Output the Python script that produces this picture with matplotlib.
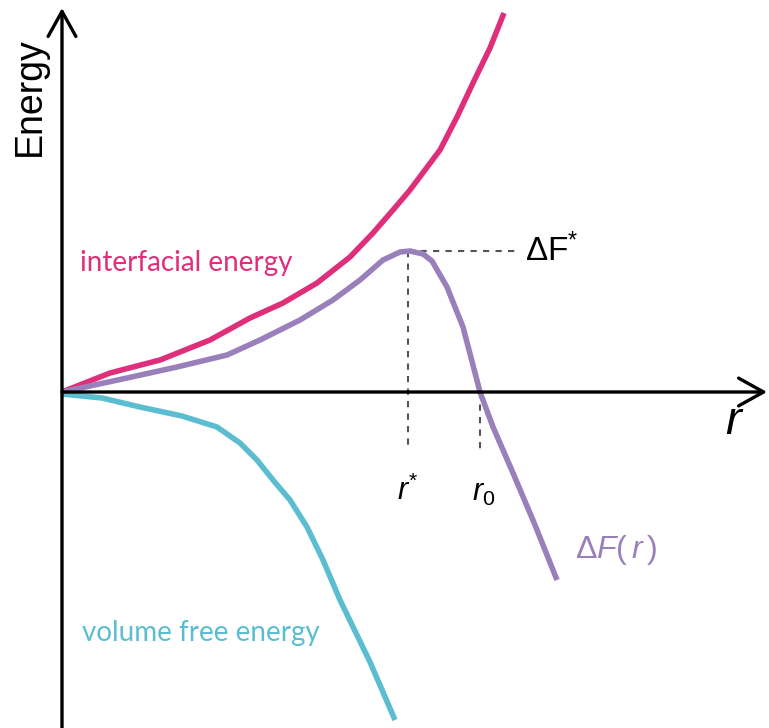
import matplotlib
matplotlib.use("Agg")
import matplotlib.pyplot as plt

# nucleation energy sketch: interfacial term, volume term and their sum
r_interface = [0.0, 0.48, 0.98, 1.48, 1.88, 2.21, 2.55, 2.88, 3.11, 3.31, 3.48, 3.78, 3.95, 4.11, 4.28, 4.42]
e_interface = [0.0, 0.19, 0.32, 0.52, 0.74, 0.89, 1.09, 1.35, 1.59, 1.82, 2.02, 2.42, 2.75, 3.09, 3.44, 3.79]

r_volume = [0.0, 0.40, 0.78, 1.20, 1.55, 1.78, 1.95, 2.11, 2.28, 2.45, 2.61, 2.78, 3.08, 3.33]
e_volume = [-0.02, -0.06, -0.15, -0.24, -0.35, -0.51, -0.68, -0.88, -1.08, -1.35, -1.68, -2.08, -2.70, -3.28]

r_total = [0.0, 0.65, 1.15, 1.65, 1.98, 2.38, 2.71, 2.98, 3.21, 3.38, 3.48, 3.61, 3.70, 3.85, 4.01, 4.18, 4.31, 4.51, 4.73, 4.95]
e_total = [0.0, 0.14, 0.25, 0.37, 0.52, 0.72, 0.92, 1.12, 1.32, 1.40, 1.41, 1.38, 1.31, 1.05, 0.65, 0.0, -0.35, -0.81, -1.33, -1.88]

r_star = 3.46
dF_star = 1.41
r_zero = 4.18

pink = "#df2f7b"
purple = "#9a80ba"
cyan = "#5bbdd0"

plt.rcParams["mathtext.fontset"] = "custom"
plt.rcParams["mathtext.rm"] = "Liberation Sans"
plt.rcParams["mathtext.it"] = "Liberation Sans:italic"

fig = plt.figure(figsize=(7.69, 7.28), dpi=100)
ax = fig.add_axes([0, 0, 1, 1])
ax.set_xlim(-0.62, 7.07)
ax.set_ylim(-3.36, 3.92)
ax.axis("off")

# axes with open arrow heads
arrow = dict(arrowstyle="->,head_length=0.9,head_width=0.5", lw=2.4, color="black",
             mutation_scale=20, shrinkA=0, shrinkB=0)
ax.annotate("", xy=(0, 3.84), xytext=(0, -3.40), arrowprops=arrow)
ax.annotate("", xy=(7.05, 0), xytext=(0, 0), arrowprops=arrow)

# guide lines at the barrier maximum and at r0
dash = dict(color="#555555", lw=1.5, ls=(0, (3, 3)))
ax.plot([r_star, 4.55], [dF_star, dF_star], **dash)
ax.plot([r_star, r_star], [dF_star, -0.58], **dash)
ax.plot([r_zero, r_zero], [0, -0.58], **dash)

ax.plot(r_interface, e_interface, color=pink, lw=4.0, solid_capstyle="butt", solid_joinstyle="round")
ax.plot(r_volume, e_volume, color=cyan, lw=4.0, solid_capstyle="butt", solid_joinstyle="round")
ax.plot(r_total, e_total, color=purple, lw=4.0, solid_capstyle="butt", solid_joinstyle="round")

ax.text(-0.32, 2.95, "Energy", rotation=90, ha="center", va="center",
        fontsize=27, family="Liberation Sans")
ax.text(6.73, -0.29, "$r$", ha="center", va="center", fontsize=34)
ax.text(4.63, dF_star, r"$\mathrm{\Delta F}^{*}$", ha="left", va="center", fontsize=24)
ax.text(r_star, -0.98, r"$r^{*}$", ha="center", va="center", fontsize=22)
ax.text(r_zero + 0.04, -1.02, r"$r_{\mathit{0}}$", ha="center", va="center", fontsize=22)
ax.text(5.13, -1.58, r"$\Delta F(\,r\,)$", ha="left", va="center", fontsize=23, color=purple)
ax.text(0.18, 1.29, "interfacial energy", ha="left", va="center", fontsize=20,
        family="Lato", color=pink)
ax.text(0.20, -2.41, "volume free energy", ha="left", va="center", fontsize=20,
        family="Lato", color=cyan)

fig.savefig("out.png", dpi=100)
